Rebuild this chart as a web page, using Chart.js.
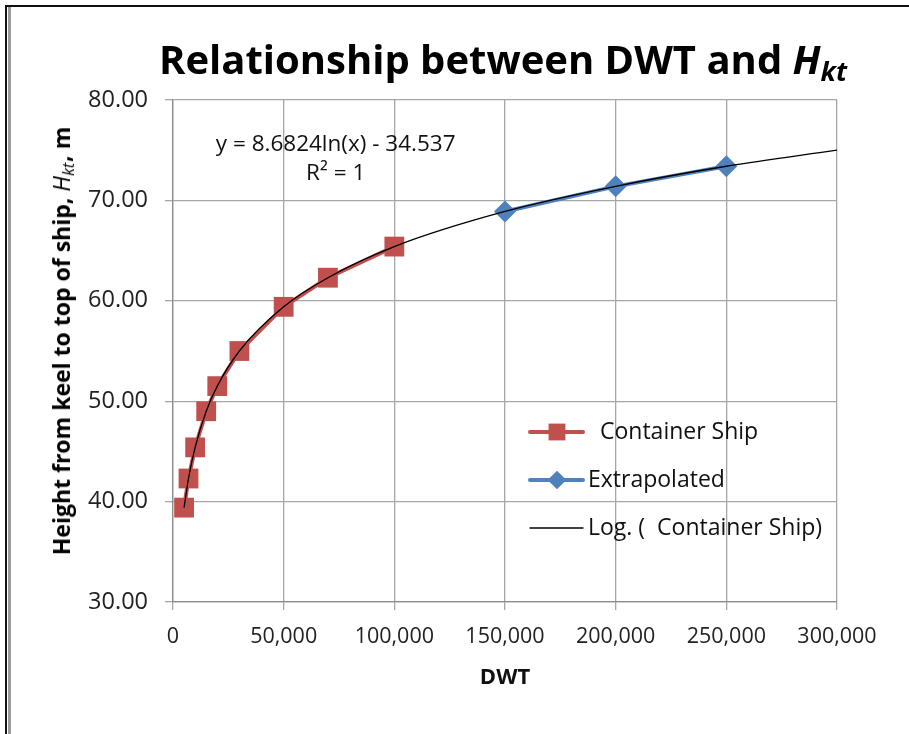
<!DOCTYPE html>
<html>
<head>
<meta charset="utf-8">
<script src="https://cdn.jsdelivr.net/npm/chart.js@4/dist/chart.umd.min.js"></script>
<style>
  html, body { margin: 0; padding: 0; background: #fff; }
  #wrap { position: relative; width: 909px; height: 734px; overflow: hidden; background: #fff; }
  #c { position: absolute; left: 0; top: 0; }
  #frameTop { position: absolute; left: 5px; top: 5px; width: 904px; height: 2px; background: #111; }
  #frameLeft1 { position: absolute; left: 5px; top: 5px; width: 2px; height: 729px; background: #111; }
  #frameLeft2 { position: absolute; left: 8px; top: 7px; width: 3px; height: 727px; background: #9a9a9a; }
  #title { position: absolute; left: 503px; top: 60px; transform: translate(-50%, -50%);
           font-family: "Open Sans", sans-serif; font-weight: bold; font-size: 40px; white-space: nowrap; color: #000; }
  #title sub { font-size: 27px; vertical-align: -7px; }
  #ytitle { position: absolute; left: 62px; top: 341px; transform: translate(-50%, -50%) rotate(-90deg);
            font-family: "Open Sans", sans-serif; font-weight: bold; font-size: 23px; white-space: nowrap; color: #000; }
  #ytitle i { font-weight: normal; }
  #ytitle sub { font-size: 16px; vertical-align: -4px; font-weight: normal; margin-right: 1px; }
</style>
</head>
<body>
<div id="wrap">
  <canvas id="c" width="909" height="734"></canvas>
  <div id="frameTop"></div>
  <div id="frameLeft1"></div>
  <div id="frameLeft2"></div>
  <div id="title">Relationship between DWT and <i>H</i><sub><i>kt</i></sub></div>
  <div id="ytitle">Height from keel to top of ship, <i>H</i><sub><i>kt</i></sub>, m</div>
</div>
<script>
// ---- data ----
const containerDWT = [5000, 7000, 10000, 15000, 20000, 30000, 50000, 70000, 100000];
const containerH   = [39.4, 42.3, 45.4, 49.0, 51.5, 55.0, 59.4, 62.3, 65.4];
const extrapDWT = [150000, 200000, 250000];
const extrapH   = [68.9, 71.4, 73.4];
const trendDWT = [5000, 7000, 10000, 15000, 20000, 30000, 50000, 70000, 100000, 150000, 200000, 250000, 300000];
const trendH   = [39.4, 42.3, 45.4, 49.0, 51.5, 55.0, 59.4, 62.3, 65.4, 68.9, 71.4, 73.4, 75.0];
const yTicks = [30, 40, 50, 60, 70, 80];
const xTicks = [0, 50000, 100000, 150000, 200000, 250000, 300000];
const seriesNames = [' Container Ship', 'Extrapolated', 'Log. (  Container Ship)'];
const equationLines = ['y = 8.6824ln(x) - 34.537', 'R\u00B2 = 1'];

const RED = '#C0504D', BLUE = '#4F81BD';
const toPts = (xs, ys) => xs.map((x, i) => ({x: x, y: ys[i]}));

const equationPlugin = {
  id: 'equation',
  afterDatasetsDraw(chart) {
    const {ctx, scales: {x, y}} = chart;
    ctx.save();
    ctx.font = '22.5px "Open Sans", sans-serif';
    ctx.fillStyle = '#111';
    ctx.textAlign = 'center';
    ctx.textBaseline = 'middle';
    const cx = x.getPixelForValue(73500);
    ctx.fillText(equationLines[0], cx, y.getPixelForValue(75.6));
    ctx.fillText(equationLines[1], cx, y.getPixelForValue(72.7));
    ctx.restore();
  }
};

const legendPlugin = {
  id: 'insideLegend',
  afterDraw(chart) {
    const {ctx} = chart;
    const items = [
      {ds: chart.data.datasets[1], y: 432, tx: 594},
      {ds: chart.data.datasets[2], y: 480, tx: 588},
      {ds: chart.data.datasets[0], y: 528, tx: 588}
    ];
    const x0 = 530, x1 = 583, xm = 557;
    ctx.save();
    items.forEach(it => {
      const ds = it.ds;
      ctx.strokeStyle = ds.borderColor;
      ctx.lineWidth = ds.borderWidth;
      ctx.lineCap = 'round';
      ctx.beginPath();
      ctx.moveTo(x0, it.y);
      ctx.lineTo(x1, it.y);
      ctx.stroke();
      if (ds.pointRadius > 0) {
        ctx.fillStyle = ds.pointBackgroundColor;
        ctx.strokeStyle = ds.pointBorderColor;
        Chart.helpers.drawPoint(ctx, {pointStyle: ds.pointStyle, radius: ds.pointRadius * 0.85, borderWidth: 0}, xm, it.y);
      }
      ctx.font = '23px "Open Sans", sans-serif';
      ctx.fillStyle = '#111';
      ctx.textAlign = 'left';
      ctx.textBaseline = 'middle';
      ctx.fillText(ds.label, it.tx, it.y);
    });
    ctx.restore();
  }
};

new Chart(document.getElementById('c'), {
  type: 'scatter',
  data: {
    datasets: [
      {
        label: seriesNames[2],
        data: toPts(trendDWT, trendH),
        showLine: true,
        borderColor: '#000',
        borderWidth: 1.3,
        pointRadius: 0,
        cubicInterpolationMode: 'monotone',
        order: 0
      },
      {
        label: seriesNames[0],
        data: toPts(containerDWT, containerH),
        showLine: true,
        borderColor: RED,
        borderWidth: 4,
        pointStyle: 'rect',
        pointRadius: 14,
        pointBackgroundColor: RED,
        pointBorderColor: RED,
        pointBorderWidth: 0,
        order: 1
      },
      {
        label: seriesNames[1],
        data: toPts(extrapDWT, extrapH),
        showLine: true,
        borderColor: BLUE,
        borderWidth: 4,
        pointStyle: 'rectRot',
        pointRadius: 11,
        pointBackgroundColor: BLUE,
        pointBorderColor: BLUE,
        pointBorderWidth: 0,
        order: 2
      }
    ]
  },
  options: {
    responsive: false,
    animation: false,
    layout: { padding: { left: 0, top: 100, right: 72, bottom: 0 } },
    plugins: { legend: { display: false }, tooltip: { enabled: false } },
    scales: {
      x: {
        type: 'linear',
        min: 0, max: 300000,
        afterFit(s) { s.height = 132; },
        afterBuildTicks(s) { s.ticks = xTicks.map(v => ({value: v})); },
        grid: { color: '#a6a6a6', lineWidth: 1.3, tickLength: 8, drawTicks: true },
        border: { color: '#8c8c8c', width: 1.3 },
        ticks: {
          padding: 14,
          color: '#222',
          font: { family: 'Open Sans', size: 21.5 },
          maxRotation: 0,
          autoSkip: false,
          callback: v => v.toLocaleString('en-US')
        },
        title: {
          display: true,
          text: 'DWT',
          color: '#111',
          font: { family: 'Open Sans', size: 22, weight: 'bold' },
          padding: { top: 0, bottom: 43 }
        }
      },
      y: {
        type: 'linear',
        min: 30, max: 80,
        afterFit(s) { s.width = 173; },
        afterBuildTicks(s) { s.ticks = yTicks.map(v => ({value: v})); },
        grid: { color: '#a6a6a6', lineWidth: 1.3, tickLength: 8 },
        border: { color: '#8c8c8c', width: 1.3 },
        ticks: {
          padding: 17,
          color: '#222',
          font: { family: 'Open Sans', size: 23.5 },
          callback: v => v.toFixed(2)
        }
      }
    }
  },
  plugins: [equationPlugin, legendPlugin]
});
</script>
</body>
</html>
